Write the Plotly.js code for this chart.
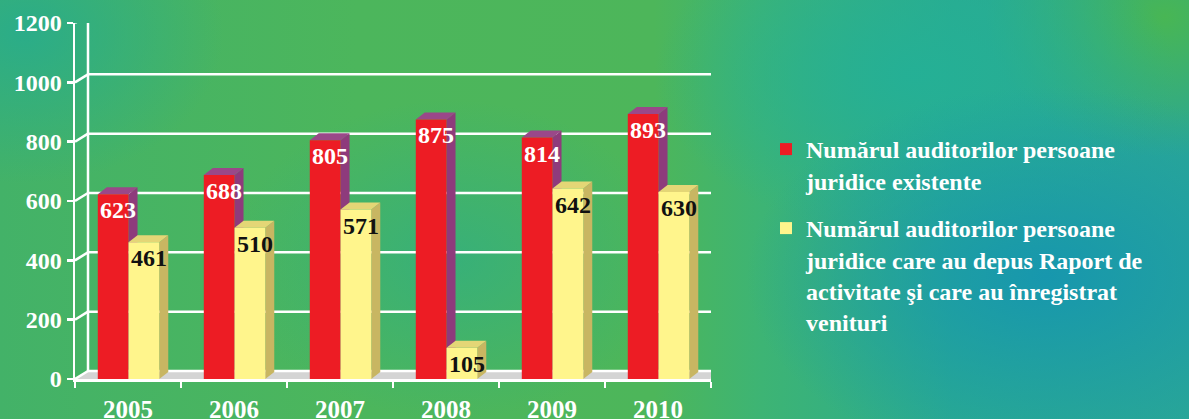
<!DOCTYPE html>
<html>
<head>
<meta charset="utf-8">
<script src="https://cdn.plot.ly/plotly-3.0.1.min.js"></script>
<style>
html, body { margin: 0; padding: 0; }
body {
  width: 1189px; height: 419px; overflow: hidden;
  background:
    radial-gradient(ellipse 300px 190px at 88% 66%, rgba(22,150,175,0.95) 0%, rgba(22,150,175,0) 100%),
    radial-gradient(ellipse 260px 160px at 77% 18%, rgba(36,176,150,0.95) 0%, rgba(36,176,150,0) 100%),
    radial-gradient(ellipse 200px 150px at 2% 8%, rgba(40,172,140,0.9) 0%, rgba(40,172,140,0) 100%),
    radial-gradient(ellipse 220px 160px at 38% 62%, rgba(42,172,140,0.6) 0%, rgba(42,172,140,0) 100%),
    radial-gradient(ellipse 180px 140px at 98% 4%, rgba(72,182,84,1) 0%, rgba(72,182,84,0) 100%),
    linear-gradient(90deg, #43b268 0%, #4cb65c 30%, #4db65a 55%, #3db474 64%, #2aab90 80%, #2aa796 100%);
}
#chart { width: 1189px; height: 419px; }
</style>
</head>
<body>
<div id="chart"></div>
<script>
// ---- data ----
const years = ['2005', '2006', '2007', '2008', '2009', '2010'];
const existing = [623, 688, 805, 875, 814, 893];
const withReports = [461, 510, 571, 105, 642, 630];
const yTicks = [0, 200, 400, 600, 800, 1000, 1200];
const nameExisting = 'Numărul auditorilor persoane<br>juridice existente';
const nameReports = 'Numărul auditorilor persoane<br>juridice care au depus Raport de<br>activitate şi care au înregistrat<br>venituri';

// ---- layout constants ----
const W = 1189, H = 419;
const M = {l: 75, r: 478, t: 23, b: 40};
const plotW = W - M.l - M.r, plotH = H - M.t - M.b;
const yMax = 1200;
const pxPerCat = plotW / years.length;
const unitsPerPx = yMax / plotH;
const BAR_W = 0.29, OFF_RED = -0.285, OFF_YEL = 0.005;
const dxD = 9 / pxPerCat, dyD = 7 * unitsPerPx;     // bar depth
const bxD = 13 / pxPerCat, byD = 8 * unitsPerPx;    // back wall depth
const X0 = -0.5, X1 = years.length - 0.5;

const RED = '#ED1C24', RED_SIDE = '#8E3B7C', RED_TOP = '#9A4889';
const YEL = '#FFF58C', YEL_SIDE = '#C8B662', YEL_TOP = '#E4D676';
const WHITE = '#FFFFFF';
const FONT = 'Liberation Serif';

const f = v => (+v).toFixed(5);
function P(pts) { return 'M' + pts.map(p => f(p[0]) + ',' + f(p[1])).join('L') + 'Z'; }
function L(pts) { return 'M' + pts.map(p => f(p[0]) + ',' + f(p[1])).join('L'); }

const shapes = [];
// floor
shapes.push({type: 'path', xref: 'x', yref: 'y', layer: 'below',
  path: P([[X0, 0], [X1, 0], [X1 + bxD, byD], [X0 + bxD, byD]]),
  fillcolor: '#D4D4D4', line: {width: 0}});
// back wall gridlines + left wall connectors
yTicks.forEach(v => {
  shapes.push({type: 'path', xref: 'x', yref: 'y', layer: 'below',
    path: L([[X0 + bxD, v + byD], [X1 + bxD, v + byD]]), line: {color: WHITE, width: 2.5}});
  shapes.push({type: 'path', xref: 'x', yref: 'y', layer: 'below',
    path: L([[X0, v], [X0 + bxD, v + byD]]), line: {color: WHITE, width: 2.5}});
});
// back wall verticals and floor right edge
shapes.push({type: 'path', xref: 'x', yref: 'y', layer: 'below',
  path: L([[X0 + bxD, byD], [X0 + bxD, yMax + byD]]), line: {color: WHITE, width: 2.5}});
shapes.push({type: 'path', xref: 'x', yref: 'y', layer: 'below',
  path: L([[X1 + bxD, byD], [X1 + bxD, yMax + byD]]), line: {color: WHITE, width: 2.5}});
shapes.push({type: 'path', xref: 'x', yref: 'y', layer: 'below',
  path: L([[X1, 0], [X1 + bxD, byD]]), line: {color: WHITE, width: 2.5}});

// 3D faces of bars
function faces(vals, off, side, top) {
  vals.forEach((v, i) => {
    const xl = i + off, xr = xl + BAR_W;
    shapes.push({type: 'path', xref: 'x', yref: 'y', layer: 'between',
      path: P([[xr, 0], [xr + dxD, dyD], [xr + dxD, v + dyD], [xr, v]]),
      fillcolor: side, line: {width: 0}});
    shapes.push({type: 'path', xref: 'x', yref: 'y', layer: 'between',
      path: P([[xl, v], [xl + dxD, v + dyD], [xr + dxD, v + dyD], [xr, v]]),
      fillcolor: top, line: {width: 0}});
  });
}
faces(existing, OFF_RED, RED_SIDE, RED_TOP);
faces(withReports, OFF_YEL, YEL_SIDE, YEL_TOP);

// value labels
const annotations = [];
function labels(vals, off, color) {
  vals.forEach((v, i) => {
    annotations.push({xref: 'x', yref: 'y', x: i + off, y: v, xanchor: 'left', yanchor: 'top',
      xshift: 0, yshift: -1, showarrow: false, text: String(v),
      font: {family: FONT, size: 24, color: color, weight: 'bold'}});
  });
}
labels(existing, OFF_RED, WHITE);
labels(withReports, OFF_YEL, '#111111');

const traces = [
  {type: 'bar', x: years, y: existing, name: nameExisting, width: BAR_W, offset: OFF_RED,
   marker: {color: RED, line: {width: 0}}, hoverinfo: 'skip', legend: 'legend'},
  {type: 'bar', x: years, y: withReports, name: nameReports, width: BAR_W, offset: OFF_YEL,
   marker: {color: YEL, line: {width: 0}}, hoverinfo: 'skip', legend: 'legend2'}
];

const legendBase = {xref: 'paper', yref: 'paper', xanchor: 'left', yanchor: 'top',
  bgcolor: 'rgba(0,0,0,0)', borderwidth: 0, valign: 'top',
  font: {family: FONT, size: 24, color: WHITE, weight: 'bold'}};

const layout = {
  width: W, height: H,
  font: {family: FONT},
  margin: {l: M.l, r: M.r, t: M.t, b: M.b, autoexpand: false},
  paper_bgcolor: 'rgba(0,0,0,0)', plot_bgcolor: 'rgba(0,0,0,0)',
  barmode: 'overlay',
  showlegend: true,
  legend: Object.assign({}, legendBase, {x: (766 - M.l) / plotW, y: 1 - (127 - M.t) / plotH}),
  legend2: Object.assign({}, legendBase, {x: (766 - M.l) / plotW, y: 1 - (206 - M.t) / plotH}),
  xaxis: {type: 'category', range: [X0, X1], tickson: 'boundaries', ticks: 'outside', ticklen: 6,
    tickwidth: 2.5, tickcolor: WHITE, showline: true, linecolor: WHITE, linewidth: 2.5,
    showgrid: false, zeroline: false, fixedrange: true, ticklabelstandoff: 6,
    tickfont: {family: FONT, size: 25, color: WHITE, weight: 'bold'}},
  yaxis: {range: [0, yMax], tickvals: yTicks, ticktext: yTicks.map(String), ticks: 'outside', ticklen: 6,
    tickwidth: 2.5, tickcolor: WHITE, showline: true, linecolor: WHITE, linewidth: 2.5,
    showgrid: false, zeroline: false, fixedrange: true,
    tickfont: {family: FONT, size: 24, color: WHITE, weight: 'bold'}},
  shapes: shapes,
  annotations: annotations
};

Plotly.newPlot('chart', traces, layout, {displayModeBar: false, staticPlot: true});
</script>
</body>
</html>
